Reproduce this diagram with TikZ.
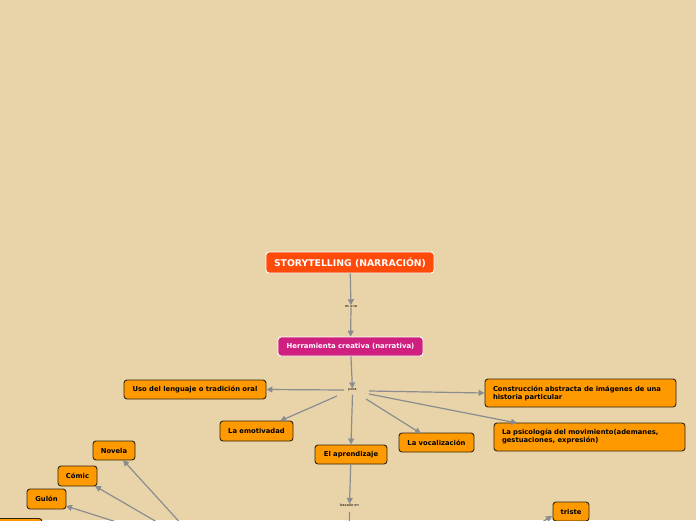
\documentclass[tikz,border=0pt]{standalone}
\usepackage{fontspec}
\setmainfont{DejaVu Sans}
\usetikzlibrary{arrows.meta}
\definecolor{bg}{HTML}{E8D4A8}
\definecolor{orangebox}{HTML}{FF9900}
\definecolor{boxline}{HTML}{2E2410}
\definecolor{redbox}{HTML}{FF4A0A}
\definecolor{pinkbox}{HTML}{CF1F7F}
\definecolor{conn}{HTML}{8A8C90}
\tikzset{
  box/.style={draw=boxline, fill=orangebox, rounded corners=3pt, line width=0.9pt, inner sep=0pt,
    font=\bfseries\fontsize{6.8}{8}\selectfont, align=center, text=black},
  lbox/.style={box, align=left, text width=#1},
  topbox/.style={draw=white, rounded corners=3pt, line width=0.9pt, inner sep=0pt, text=white, font=\bfseries},
  lbl/.style={inner sep=0pt, font=\fontsize{3.6}{4}\selectfont, text=black},
  conn/.style={draw=conn, line width=1.2pt, -{Triangle[length=6pt,width=6pt]}},
  connnt/.style={draw=conn, line width=1.2pt}
}
\begin{document}
\begin{tikzpicture}[x=1pt,y=-1pt]
\fill[bg] (0,0) rectangle (696,520);
\useasboundingbox (0,0) rectangle (696,520);

\node[topbox, fill=redbox, minimum width=168pt, minimum height=21pt, font=\bfseries\fontsize{9.3}{10}\selectfont] (story) at (350,262.5) {STORYTELLING (NARRACIÓN)};
\node[lbl] (esuna) at (351,306.5) {es una};
\node[topbox, fill=pinkbox, minimum width=145pt, minimum height=19pt, font=\bfseries\fontsize{6.9}{8}\selectfont] (herr) at (350.5,346.5) {Herramienta creativa (narrativa)};
\node[lbl] (para) at (352.5,390) {para};

\node[box, minimum width=142pt, minimum height=19pt] (uso) at (195,389.5) {Uso del lenguaje o tradición oral};
\node[box, minimum width=73pt, minimum height=20pt] (emo) at (256.5,431) {La emotivadad};
\node[box, minimum width=72pt, minimum height=19pt] (apr) at (351,454.5) {El aprendizaje};
\node[box, minimum width=75pt, minimum height=19pt] (voc) at (436.5,442.5) {La vocalización};
\node[lbox=175pt, minimum width=191pt, minimum height=28pt] (cons) at (580.5,393) {Construcción abstracta de imágenes de una\\historia particular};
\node[lbox=175pt, minimum width=191pt, minimum height=28pt] (psi) at (589.5,437) {La psicología del movimiento(ademanes,\\gestuaciones, expresión)};

\node[lbl] (basado) at (349.5,505.5) {basado en};

\node[box, minimum width=42pt, minimum height=19pt] (nov) at (114,450.5) {Novela};
\node[box, minimum width=39pt, minimum height=20pt] (com) at (77.5,476) {Cómic};
\node[box, minimum width=39pt, minimum height=20pt] (gul) at (46.5,499) {Gulón};
\node[box, minimum width=36pt, minimum height=19pt] (tri) at (571,511.5) {triste};
\node[box, minimum width=64pt, minimum height=20pt] (cut) at (10,528.5) {};

\coordinate (fan) at (205,550);
\coordinate (tristesrc) at (505,545);
\coordinate (down) at (349,540);

\draw[conn] (story) -- (esuna);
\draw[conn] (esuna) -- (herr);
\draw[conn] (herr) -- (para);
\draw[conn] (para.west) ++(-4,0) -- (uso.east);
\draw[conn] (337,396) -- (280,421);
\draw[conn] (para.south) ++(0,3) -- (apr.north);
\draw[conn] (366,399) -- (421,433.5);
\draw[conn] (369,391) -- (cons.west);
\draw[conn] (369,394) -- (517,423);
\draw[conn] (apr) -- (basado);
\draw[connnt] (basado.south) ++(0,5) -- (down);
\draw[conn] (fan) -- (123,460);
\draw[conn] (fan) -- (95,486);
\draw[conn] (fan) -- (66,506);
\draw[conn] (tristesrc) -- (552,516);
\end{tikzpicture}
\end{document}
